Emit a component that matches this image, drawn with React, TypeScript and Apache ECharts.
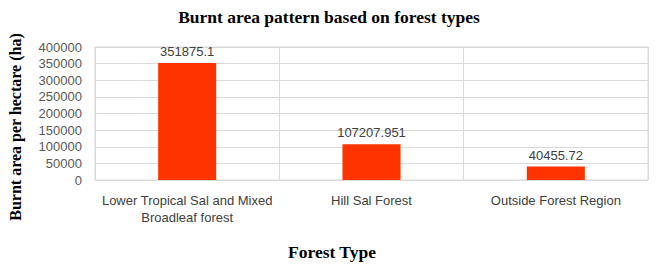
import React, { useEffect, useRef } from "react";
import * as echarts from "echarts";

const categories = [
  "Lower Tropical Sal and Mixed\nBroadleaf forest",
  "Hill Sal Forest",
  "Outside Forest Region",
];
const burntArea = [351875.1, 107207.951, 40455.72];
const dataLabels = ["351875.1", "107207.951", "40455.72"];
const titleText = "Burnt area pattern based on forest types";
const yAxisTitle = "Burnt area per hectare (ha)";
const xAxisTitle = "Forest Type";

export default function App() {
  const ref = useRef<HTMLDivElement>(null);
  useEffect(() => {
    document.body.style.margin = "0";
    if (!ref.current) return;
    const chart = echarts.init(ref.current, undefined, { renderer: "svg" });
    const serif = "'Liberation Serif', 'Times New Roman', serif";
    const sans = "'Liberation Sans', Arial, sans-serif";
    chart.setOption({
      animation: false,
      backgroundColor: "#ffffff",
      grid: {
        left: 95,
        right: 11,
        top: 47,
        bottom: 86,
        show: true,
        borderColor: "#d9d9d9",
        borderWidth: 1,
      },
      xAxis: {
        type: "category",
        data: categories,
        axisLine: { show: true, lineStyle: { color: "#d9d9d9" } },
        axisTick: { show: false },
        splitLine: { show: true, lineStyle: { color: "#d9d9d9" } },
        axisLabel: {
          color: "#404040",
          fontFamily: sans,
          fontSize: 13,
          lineHeight: 17,
          margin: 12,
          interval: 0,
        },
      },
      yAxis: {
        type: "value",
        min: 0,
        max: 400000,
        interval: 50000,
        axisLine: { show: false },
        axisTick: { show: false },
        splitLine: { lineStyle: { color: "#d9d9d9" } },
        axisLabel: {
          color: "#595959",
          fontFamily: sans,
          fontSize: 13,
          margin: 13,
          formatter: (v: number) => String(v),
        },
      },
      series: [
        {
          type: "bar",
          data: burntArea,
          barWidth: "31.5%",
          itemStyle: { color: "#ff3300" },
          label: {
            show: true,
            position: "top",
            distance: 5,
            color: "#404040",
            fontFamily: sans,
            fontSize: 13,
            formatter: (p: any) => dataLabels[p.dataIndex],
          },
        },
      ],
      graphic: [
        {
          type: "text",
          x: 329,
          y: 17,
          style: {
            text: titleText,
            font: `bold 17.5px ${serif}`,
            fill: "#000000",
            textAlign: "center",
            textVerticalAlign: "middle",
          },
        },
        {
          type: "text",
          x: 15,
          y: 127,
          rotation: Math.PI / 2,
          style: {
            text: yAxisTitle,
            font: `bold 16px ${serif}`,
            fill: "#000000",
            textAlign: "center",
            textVerticalAlign: "middle",
          },
        },
        {
          type: "text",
          x: 332,
          y: 252,
          style: {
            text: xAxisTitle,
            font: `bold 17.5px ${serif}`,
            fill: "#000000",
            textAlign: "center",
            textVerticalAlign: "middle",
          },
        },
      ],
    });
    return () => chart.dispose();
  }, []);
  return <div ref={ref} style={{ width: 659, height: 266 }} />;
}
